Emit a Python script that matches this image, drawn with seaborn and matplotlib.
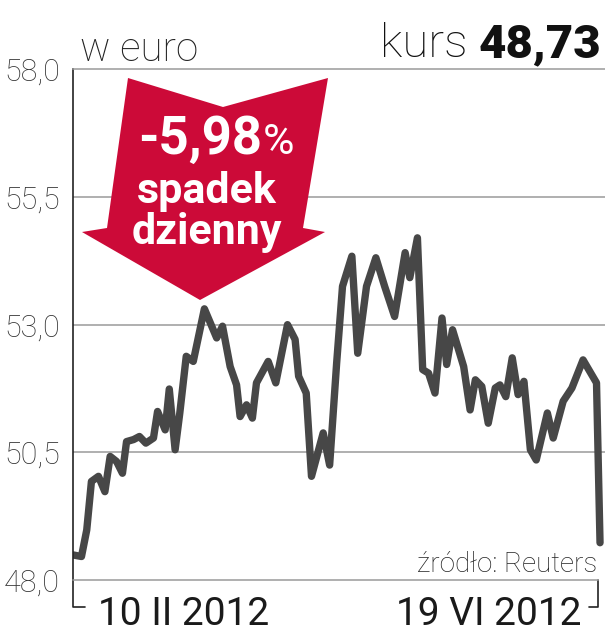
import matplotlib
matplotlib.use("Agg")
import matplotlib.pyplot as plt
from matplotlib.patches import Polygon
import seaborn as sns

# trading day (from 10 II 2012) and closing price in euro
days = [0, 1.4, 2.3, 3.1, 4.3, 5.4, 6.3, 7.4, 8.4, 9.1,
        10.3, 11.3, 12.4, 13.7, 14.4, 15.7, 16.4, 17.4, 18.2, 19.3,
        20.5, 22.4, 24.5, 25.5, 26.8, 27.9, 28.5, 29.6, 30.6, 31.3,
        33.3, 34.6, 36.6, 37.9, 38.5, 39.8, 40.7, 42.7, 43.8, 45.0,
        46.0, 47.6, 48.6, 50.1, 51.7, 53.2, 54.9, 56.7, 57.5, 58.8,
        59.7, 60.7, 61.8, 63.0, 63.8, 64.8, 66.7, 67.8, 68.7, 69.8,
        70.9, 72.1, 72.9, 73.9, 75.0, 76.0, 77.0, 78.1, 79.1, 81.0,
        82.0, 83.7, 85.2, 87.1, 89.4, 90]
prices = [48.49, 48.46, 48.98, 49.93, 50.03, 49.73, 50.42, 50.32, 50.09, 50.71,
          50.75, 50.81, 50.68, 50.78, 51.30, 50.94, 51.74, 50.55, 51.27, 52.38,
          52.28, 53.31, 52.74, 52.97, 52.18, 51.82, 51.20, 51.43, 51.17, 51.86,
          52.28, 51.86, 53.00, 52.71, 51.99, 51.66, 50.03, 50.88, 50.25, 52.25,
          53.75, 54.34, 52.44, 53.75, 54.31, 53.75, 53.16, 54.41, 53.92, 54.70,
          52.12, 52.05, 51.66, 53.13, 52.22, 52.90, 52.18, 51.33, 51.92, 51.79,
          51.07, 51.76, 51.82, 51.59, 52.35, 51.63, 51.89, 50.55, 50.35, 51.27,
          50.78, 51.50, 51.76, 52.31, 51.86, 48.73]

yticks = [48.0, 50.5, 53.0, 55.5, 58.0]
ytick_labels = ["48,0", "50,5", "53,0", "55,5", "58,0"]
date_labels = ["10 II 2012", "19 VI 2012"]
last_price = "48,73"
change = "-5,98"

sns.set_style("white")
plt.rcParams['font.family'] = ['Roboto', 'DejaVu Sans']

W, H = 605, 640
def fx(x):
    return x / W
def fy(y):
    return 1 - y / H

fig = plt.figure(figsize=(6.05, 6.4), dpi=100)
ax = fig.add_axes([fx(72.7), fy(580), fx(605 - 72.7), (580 - 69.3) / H])

sns.lineplot(x=days, y=prices, ax=ax, color="#474747", linewidth=5.3,
             solid_joinstyle="round", solid_capstyle="round")

ax.set_xlim(-0.1, 90.85)
ax.set_ylim(48, 58)
ax.set_yticks(yticks)
ax.set_yticklabels(ytick_labels)
ax.set_xticks([])
ax.tick_params(axis="y", length=0, pad=9, labelsize=22, labelcolor="#333333")
for lab in ax.get_yticklabels():
    lab.set_fontweight("light")

ax.grid(axis="y", color="#9a9a9a", linewidth=1.1)
grid = ax.get_ygridlines()
grid[0].set_visible(False)
grid[-1].set_visible(False)

ax.spines["right"].set_visible(False)
ax.spines["top"].set_color("#9a9a9a")
ax.spines["top"].set_linewidth(1.1)
ax.spines["bottom"].set_color("#9a9a9a")
ax.spines["bottom"].set_linewidth(1.1)
ax.spines["bottom"].set_bounds(-0.1, 89.66)
ax.spines["left"].set_color("#222222")
ax.spines["left"].set_linewidth(1.2)

# date brackets under the axis
ax.plot([0, 0, 0.023], [0, -0.053, -0.053], transform=ax.transAxes,
        clip_on=False, color="#222222", lw=1.2)
ax.plot([0.970, 0.987, 0.987], [-0.053, -0.053, 0], transform=ax.transAxes,
        clip_on=False, color="#222222", lw=1.2)

fig.text(fx(98), fy(625), date_labels[0], ha="left", va="baseline",
         fontsize=28, color="#1a1a1a")
fig.text(fx(581), fy(625), date_labels[1], ha="right", va="baseline",
         fontsize=28, color="#1a1a1a")

# header
fig.text(fx(80), fy(61), "w euro", ha="left", va="baseline",
         fontsize=29, fontweight="light", color="#222222")
fig.text(fx(468), fy(57), "kurs", ha="right", va="baseline",
         fontsize=34, fontweight="light", color="#111111")
fig.text(fx(601), fy(57), last_price, ha="right", va="baseline",
         fontsize=34, fontweight="heavy", color="#111111")

fig.text(fx(597), fy(572), "źródło: Reuters", ha="right", va="baseline",
         fontsize=20, fontweight="light", color="#222222")

# red arrow badge
arrow_px = [(128, 78), (223, 107), (328, 78), (303, 228), (325, 232),
            (200, 300), (82, 232), (107, 228)]
fig.add_artist(Polygon([(fx(x), fy(y)) for x, y in arrow_px], closed=True,
                       transform=fig.transFigure, facecolor="#cc0a38",
                       edgecolor="none"))
fig.text(fx(262), fy(154), change, ha="right", va="baseline",
         fontsize=38, fontweight="bold", color="white")
fig.text(fx(263), fy(154), "%", ha="left", va="baseline",
         fontsize=31, color="white")
fig.text(fx(207), fy(203), "spadek", ha="center", va="baseline",
         fontsize=31, fontweight="bold", color="white")
fig.text(fx(207), fy(244), "dzienny", ha="center", va="baseline",
         fontsize=31, fontweight="bold", color="white")

fig.savefig("out.png", dpi=100)
